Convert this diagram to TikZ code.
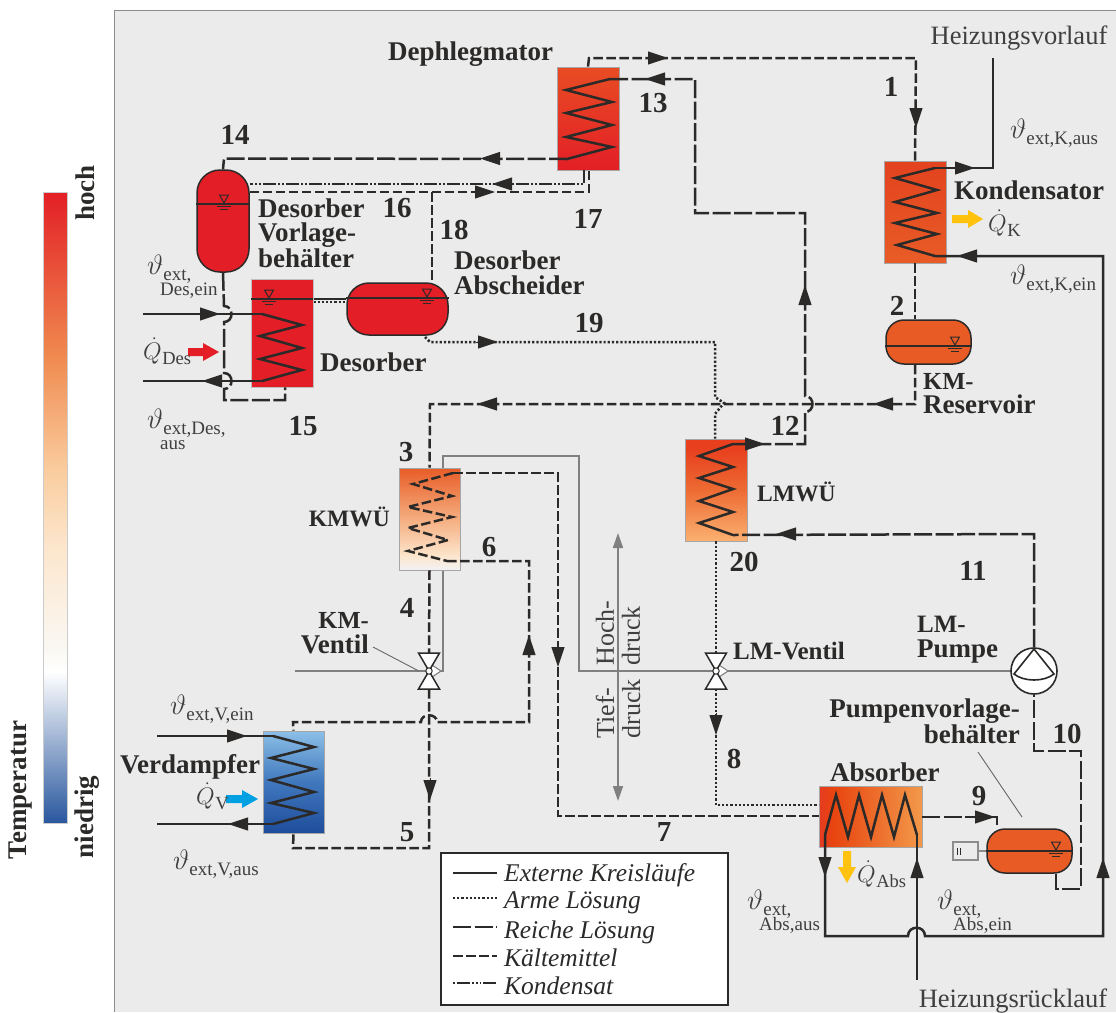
\RequirePackage{fix-cm}
\documentclass[tikz,border=0pt]{standalone}
\usepackage{fontspec}
\setmainfont{Liberation Serif}
\usetikzlibrary{arrows.meta,backgrounds}
\definecolor{dark}{HTML}{2B2A29}
\definecolor{txtgrey}{HTML}{3F3F3F}
\definecolor{panel}{HTML}{EBEBEB}
\definecolor{ctrl}{HTML}{808080}
\definecolor{hot}{HTML}{E31E26}
\definecolor{warm}{HTML}{E95B25}
\definecolor{heatyellow}{HTML}{FFC20E}
\definecolor{heatblue}{HTML}{00A0E3}
\pgfdeclareverticalshading{tempbar}{100bp}{rgb(0bp)=(0.16,0.34,0.62);rgb(25bp)=(0.16,0.34,0.62);rgb(37bp)=(1,1,1);rgb(39bp)=(0.98,0.97,0.95);rgb(47bp)=(0.99,0.90,0.80);rgb(53bp)=(0.98,0.80,0.62);rgb(62bp)=(0.94,0.54,0.31);rgb(75bp)=(0.89,0.12,0.15);rgb(100bp)=(0.89,0.12,0.15)}
\pgfdeclareverticalshading{depshade}{100bp}{rgb(0bp)=(0.89,0.12,0.15);rgb(25bp)=(0.89,0.12,0.15);rgb(75bp)=(0.91,0.30,0.14);rgb(100bp)=(0.91,0.30,0.14)}
\pgfdeclareverticalshading{konshade}{100bp}{rgb(0bp)=(0.91,0.36,0.15);rgb(25bp)=(0.91,0.36,0.15);rgb(75bp)=(0.89,0.26,0.12);rgb(100bp)=(0.89,0.26,0.12)}
\pgfdeclareverticalshading{lmwshade}{100bp}{rgb(0bp)=(0.98,0.69,0.44);rgb(25bp)=(0.98,0.69,0.44);rgb(50bp)=(0.93,0.42,0.20);rgb(70bp)=(0.91,0.25,0.12);rgb(75bp)=(0.91,0.25,0.12);rgb(100bp)=(0.91,0.25,0.12)}
\pgfdeclareverticalshading{kmwshade}{100bp}{rgb(0bp)=(0.95,0.95,0.96);rgb(25bp)=(0.95,0.95,0.96);rgb(32bp)=(0.99,0.90,0.80);rgb(50bp)=(0.96,0.68,0.50);rgb(75bp)=(0.91,0.36,0.15);rgb(100bp)=(0.91,0.36,0.15)}
\pgfdeclareverticalshading{verdshade}{100bp}{rgb(0bp)=(0.12,0.30,0.61);rgb(25bp)=(0.12,0.30,0.61);rgb(50bp)=(0.25,0.47,0.74);rgb(75bp)=(0.55,0.75,0.91);rgb(100bp)=(0.55,0.75,0.91)}
\pgfdeclarehorizontalshading{absshade}{100bp}{rgb(0bp)=(0.90,0.23,0.13);rgb(25bp)=(0.90,0.23,0.13);rgb(32bp)=(0.91,0.27,0.06);rgb(75bp)=(0.95,0.60,0.29);rgb(100bp)=(0.95,0.60,0.29)}
\newcommand\tipR[2]{\draw[flowtip] (#1-22,#2) -- (#1,#2);}
\newcommand\tipL[2]{\draw[flowtip] (#1+22,#2) -- (#1,#2);}
\newcommand\tipU[2]{\draw[flowtip] (#1,#2+22) -- (#1,#2);}
\newcommand\tipD[2]{\draw[flowtip] (#1,#2-22) -- (#1,#2);}
\newcommand\lvlmark[2]{\draw[thin line,fill=none] (#1-4.5,#2-9) -- (#1+4.5,#2-9) -- (#1,#2-1) -- cycle;
 \draw[thin line] (#1-7,#2+2.5) -- (#1+7,#2+2.5) (#1-4,#2+5.5) -- (#1+4,#2+5.5);}
\newcommand\thsub[1]{{\fontsize{28}{28}\selectfont$\vartheta$}\raisebox{-6pt}{\fontsize{19}{19}\selectfont #1}}
\newcommand\qsub[1]{{\fontsize{24}{24}\selectfont$\dot{Q}$}\raisebox{-5pt}{\fontsize{18.5}{19}\selectfont\kern0.5pt #1}}
\newcommand\subline[1]{{\fontsize{19}{19}\selectfont #1}}
\newcommand\valveshape[2]{%
 \draw[ctrl line,fill=white,line width=1.1pt] (#1,#2-8) -- (#1+12,#2) -- (#1,#2+8);
 \draw[line width=1.5pt,draw=dark,fill=white] (#1-10.5,#2-18) -- (#1+10.5,#2-18) -- (#1,#2) -- cycle;
 \draw[line width=1.5pt,draw=dark,fill=white] (#1-10.5,#2+18) -- (#1+10.5,#2+18) -- (#1,#2) -- cycle;
 \draw[line width=1pt,draw=dark,fill=white] (#1,#2) circle (3.2pt);}
\tikzset{
 pipe/.style={draw=dark,line width=2.5pt,line join=miter},
 extern/.style={pipe},
 reich/.style={pipe,dash pattern=on 18pt off 3.5pt},
 kaelte/.style={pipe,dash pattern=on 9.5pt off 3.5pt},
 arm/.style={pipe,dash pattern=on 2.2pt off 2pt},
 kond/.style={pipe,dash pattern=on 13pt off 2pt on 2pt off 2pt on 2pt off 2pt},
 coil/.style={draw=dark,line width=2.5pt},
 thin line/.style={draw=dark,line width=1pt},
 ctrl line/.style={draw=ctrl,line width=2.4pt},
 flowtip/.style={draw=dark,solid,line width=1pt,-{Triangle[length=20pt,width=13pt,fill=dark]}},
 hx/.style={rectangle,draw=black!35,line width=0.8pt,inner sep=0pt,shade},
 tank/.style={rectangle,draw=dark,line width=1.5pt,inner sep=0pt},
 bold/.style={font=\fontsize{27}{27}\selectfont\bfseries,text=dark,inner sep=0pt},
 num/.style={font=\fontsize{29}{29}\selectfont\bfseries,text=dark,inner sep=0pt},
 plain/.style={font=\fontsize{26.5}{27}\selectfont,text=txtgrey,inner sep=0pt},
 legtext/.style={font=\fontsize{25.5}{27}\selectfont\itshape,text=dark,inner sep=0pt,anchor=west},
 legline/.style={line width=2pt},
}
\begin{document}
\begin{tikzpicture}[x=1pt,y=-1pt]
\useasboundingbox (0,0) rectangle (1116,1012);
%%% equipment
\node[hx,shading=depshade,minimum width=62pt,minimum height=103pt] (dep) at (588,118.5) {};
\node[hx,shading=konshade,minimum width=62pt,minimum height=102pt] (kon) at (915,212) {};
\node[hx,shading=lmwshade,minimum width=62pt,minimum height=102pt] (lmw) at (716,490) {};
\node[hx,shading=kmwshade,minimum width=61pt,minimum height=102pt] (kmw) at (429.5,519) {};
\node[hx,shading=verdshade,minimum width=61pt,minimum height=102pt] (ver) at (293.5,782) {};
\node[hx,shading=absshade,minimum width=103pt,minimum height=61pt] (abs) at (870.5,816.5) {};
\node[rectangle,fill=hot,draw=black!25,line width=0.8pt,inner sep=0pt,minimum width=62pt,minimum height=108pt] (des) at (282,333) {};
\node[tank,rounded corners=23pt,fill=hot,minimum width=52pt,minimum height=102pt] (dvb) at (223,221) {};
\node[tank,rounded corners=22pt,fill=hot,minimum width=101pt,minimum height=52pt] (abd) at (397.5,309) {};
\node[tank,rounded corners=18pt,fill=warm,minimum width=85pt,minimum height=44pt] (res) at (928.5,342) {};
\node[tank,rounded corners=18pt,fill=warm,minimum width=85pt,minimum height=44pt] (pvb) at (1029.5,851) {};
\node[circle,draw=dark,line width=1.6pt,fill=white,inner sep=0pt,minimum size=46pt] (pump) at (1034,671) {};
\node[inner sep=0pt,minimum width=20pt,minimum height=36pt] (kmv) at (429,671) {};
\node[inner sep=0pt,minimum width=20pt,minimum height=36pt] (lmv) at (716,671) {};
\node[rectangle,draw=black!45,fill=panel,line width=1.2pt,inner sep=0pt,minimum width=25pt,minimum height=18pt] (sens) at (965.5,851) {};
\node[rectangle,draw=dark,line width=2.6pt,fill=white,inner sep=0pt,minimum width=287pt,minimum height=152pt] (leg) at (584.5,929) {};
%%% named ends
\coordinate (kTop) at (935,168); \coordinate (kBot) at (935,256);
\coordinate (dTop) at (610,79); \coordinate (dBot) at (567,159);
\coordinate (lTop) at (733,444); \coordinate (lBot) at (733,535);
\coordinate (mTop) at (453,473); \coordinate (mBot) at (447,561);
\coordinate (vTop) at (273,736); \coordinate (vBot) at (273,824);
\coordinate (eTop) at (262,314); \coordinate (eBot) at (262,381);
\coordinate (aL) at (825,835); \coordinate (aR) at (917,835);
\coordinate (hvl) at (993,58); \coordinate (hrl) at (917,980);
\coordinate (desIn) at (143,314); \coordinate (desOut) at (143,381);
\coordinate (verIn) at (157,736); \coordinate (verOut) at (157,824);
\coordinate (ctrlL) at (295,671);
%%% layer under the equipment
\begin{scope}[on background layer]
\fill[panel] (114,10) rectangle (1116,1012);
\draw[black!45,line width=1pt] (114,1012) -- (114,10) -- (1116,10);
\draw[ctrl line] (ctrlL) -- (kmv.center) -- (443,671) -- (443,456) -- (579,456) -- (579,671) -- (lmv.center) -- (pump.center);
\draw[arm] (des.east |- 0,302) -- (abd.west |- 0,302);
\draw[dark,line width=1.6pt] (des.east |- 0,299) -- (abd.west |- 0,299);
\end{scope}
%%% pressure arrow
\draw[draw=ctrl,line width=1.6pt,{Triangle[length=15pt,width=10pt,fill=ctrl]}-{Triangle[length=15pt,width=10pt,fill=ctrl]}] (618,533) -- (618,801);
\node[plain,rotate=90,align=left,font=\fontsize{26}{25}\selectfont] (tief) at (618,709) {Tief-\\[1pt]druck};
\node[plain,rotate=90,align=left,font=\fontsize{26}{25}\selectfont] (hoch) at (618,633) {Hoch-\\[1pt]druck};
%%% coils
\draw[coil] (dTop) -- (566,90) -- (612,102) -- (566,113) -- (612,125) -- (566,137) -- (612,147) -- (dBot);
\draw[coil] (kTop) -- (895,178) -- (937,190) -- (895,202) -- (937,213) -- (895,223) -- (937,234) -- (897,245) -- (kBot);
\draw[coil] (lTop) -- (699,456) -- (733,467) -- (699,478) -- (733,489) -- (699,501) -- (733,512) -- (699,523) -- (lBot);
\draw[kaelte] (mTop) -- (413,484) -- (452,496) -- (408,507) -- (452,517) -- (408,528) -- (448,540) -- (408,551) -- (mBot);
\draw[coil] (vTop) -- (314,747) -- (271,758) -- (314,769) -- (271,780) -- (314,792) -- (271,803) -- (314,813) -- (vBot);
\draw[coil] (eTop) -- (302,325) -- (260,336) -- (302,348) -- (260,359) -- (302,370) -- (eBot);
\draw[coil] (aL) -- (836,795) -- (848,837) -- (859,795) -- (871,837) -- (882,795) -- (894,837) -- (905,795) -- (aR);
%%% level lines and marks
\draw[dark,line width=1.6pt] (dvb.west |- 0,204) -- (dvb.east |- 0,204);
\lvlmark{224}{204}
\lvlmark{269}{299}
\draw[dark,line width=1.6pt] (des.west |- 0,299) -- (des.east |- 0,299);
\draw[dark,line width=1.6pt] (abd.west |- 0,298) -- (abd.east |- 0,298);
\lvlmark{427}{298}
\draw[dark,line width=1.6pt] (res.west |- 0,346) -- (res.east |- 0,346);
\lvlmark{955}{346}
\draw[dark,line width=1.6pt] (pvb.west |- 0,851) -- (pvb.east |- 0,851);
\lvlmark{1056}{851}
%%% external circuits
\draw[extern] (kTop) -- (993,168) -- (hvl);
\tipR{975}{168}
\draw[extern] (aL) -- (825,936) -- (908,936) .. controls (908,925) and (925,925) .. (925,936) -- (1103,936) -- (1103,256) -- (kBot);
\tipL{957}{256}\tipU{1103}{858}\tipD{825}{877}
\draw[extern] (hrl) -- (aR);
\tipU{917}{858}
\draw[extern] (verIn) -- (vTop); \tipR{247}{736}
\draw[extern] (vBot) -- (verOut); \tipL{228}{824}
\draw[extern] (desIn) -- (eTop); \tipR{220}{314}
\draw[extern] (eBot) -- (desOut); \tipL{202}{381}
%%% refrigerant (Kaeltemittel)
\draw[kaelte] (dep.north) -- (589,58) -- (916,58) -- (kon.north);
\tipR{668}{58}\tipD{916}{128}
\draw[kaelte] (kon.south) -- (res.north -| kon.south);
\draw[kaelte] (res.south -| 915,0) -- (915,404) -- (430,404) -- (kmw.north);
\tipL{873}{404}\tipL{477}{404}
\draw[kaelte] (mTop) -- (558,473) -- (558,816) -- (abs.west |- 0,816);
\tipD{558}{667}
\draw[kaelte] (kmw.south) -- (kmv.north);
\draw[kaelte] (kmv.south) -- (429,848) -- (293,848) -- (ver.south);
\tipD{430}{800}
\draw[kaelte] (mBot) -- (529,561) -- (529,722) -- (437,722) .. controls (437,713) and (421,713) .. (421,722) -- (293,722) -- (ver.north);
\tipU{529}{635}
\draw[kaelte] (dvb.east |- 0,192) -- (589,192) -- (dep.south -| 589,0);
\tipR{495}{192}
\draw[kaelte] (432,192) -- (abd.north -| 432,0);
%%% rich solution (Reiche Loesung)
\draw[reich] (dBot) -- (224,158.5) -- (dvb.north);
\tipL{480}{158.5}
\draw[reich] (dvb.south) -- (224,306) .. controls (234,306) and (234,322) .. (224,322) -- (224,373) .. controls (234,373) and (234,389) .. (224,389) -- (224,400) -- (285,400) -- (des.south -| 285,0);
\draw[reich] (dTop) -- (695,79) -- (695,213) -- (805,213) -- (805,396) .. controls (815,396) and (815,412) .. (805,412) -- (805,444) -- (lTop);
\tipL{645}{79}\tipU{805}{285}\tipR{765}{444}
\draw[reich] (abs.east |- 0,817) -- (997,817) -- (pvb.north -| 997,0);
\tipR{995}{817}
\draw[reich] (pvb.south -| 1056,0) -- (1056,889) -- (1081,889) -- (1081,751) -- (1034,751) -- (pump.south);
\draw[reich] (pump.north) -- (1034,534) -- (lBot);
\tipL{776}{534}
%%% poor solution (Arme Loesung)
\draw[arm] (425,337) -- (430,342) -- (715,342) -- (715,397) -- (724,403) -- (715,414) -- (lmw.north -| 715,0);
\tipR{498}{342}
\draw[arm] (lmw.south) -- (lmv.north);
\draw[arm] (lmv.south) -- (716,805) -- (abs.west |- 0,805);
\tipD{716}{735}
%%% condensate
\draw[kond] (584,170) -- (584,184) -- (dvb.east |- 0,184);
\tipL{492}{184}
%%% valves, pump, leaders
\valveshape{429}{671}
\valveshape{716}{671}
\draw[dark,line width=1.6pt,fill=white] (1034,649) -- (1014,674) .. controls (1024,682) and (1044,682) .. (1054,674) -- cycle;
\draw[draw=black!60,line width=0.9pt] (373,647) -- (kmv.west);
\draw[draw=black!60,line width=0.9pt] (978,752) -- (1022,817);
\draw[draw=black!45,line width=1.2pt] (sens.east) -- (pvb.west);
\draw[dark,line width=0.7pt] (957,848) -- (957,855) (960,848) -- (960,855);
%%% heat arrows
\fill[hot] (188,348) -- (203,348) -- (203,343) -- (219,352) -- (203,361) -- (203,356) -- (188,356) -- cycle;
\fill[heatyellow] (952,215) -- (968,215) -- (968,210) -- (983,219) -- (968,228) -- (968,223) -- (952,223) -- cycle;
\fill[heatblue] (226,795) -- (242,795) -- (242,790) -- (258,799) -- (242,808) -- (242,803) -- (226,803) -- cycle;
\fill[heatyellow] (843,851) -- (851,851) -- (851,867) -- (856,867) -- (847,883) -- (838,867) -- (843,867) -- cycle;
%%% color bar
\node[hx,shading=tempbar,minimum width=24pt,minimum height=631pt,draw=black!20] (bar) at (55,507.5) {};
\node[bold,rotate=90] (hochlbl) at (85,193) {hoch};
\node[bold,rotate=90] (nied) at (87,817) {niedrig};
\node[bold,rotate=90] (tempt) at (21,790) {Temperatur};
%%% equipment labels
\node[bold,anchor=west] (t1) at (388,54) {Dephlegmator};
\node[bold,anchor=west,align=left,font=\fontsize{27}{24}\selectfont\bfseries] (t2) at (258,233) {Desorber\\Vorlage-\\behälter};
\node[bold,anchor=west,align=left,font=\fontsize{27}{25}\selectfont\bfseries] (t3) at (454,272.5) {Desorber\\Abscheider};
\node[bold,anchor=west] (t4) at (320,362) {Desorber};
\node[bold,anchor=west] (t5) at (954,190) {Kondensator};
\node[bold,anchor=west,align=left,font=\fontsize{27}{24}\selectfont\bfseries] (t6) at (923,394) {{\fontsize{24.5}{24}\selectfont KM-}\\Reservoir};
\node[bold,anchor=east,font=\fontsize{23.5}{24}\selectfont\bfseries] (t7) at (390,517) {KMWÜ};
\node[bold,anchor=east,align=right,font=\fontsize{27}{25}\selectfont\bfseries] (t8) at (369,633.5) {{\fontsize{24.5}{25}\selectfont KM-}\\Ventil};
\node[bold,anchor=west,font=\fontsize{23.5}{24}\selectfont\bfseries] (t9) at (757,492) {LMWÜ};
\node[bold,anchor=west,font=\fontsize{25}{25}\selectfont\bfseries] (t10) at (733,651) {LM-Ventil};
\node[bold,anchor=west,align=left,font=\fontsize{27}{25}\selectfont\bfseries] (t11) at (917,639.5) {{\fontsize{25}{25}\selectfont LM-}\\Pumpe};
\node[bold,anchor=east,align=right,font=\fontsize{27}{24}\selectfont\bfseries] (t12) at (1020,721) {Pumpenvorlage-\\behälter};
\node[bold,anchor=west] (t13) at (830,772) {Absorber};
\node[bold,anchor=west] (t14) at (120,767) {Verdampfer};
\node[plain] (hv) at (1019,38) {Heizungsvorlauf};
\node[plain] (hr) at (1013,1001) {Heizungsrücklauf};
%%% state numbers
\foreach \n/\px/\py in {1/891/87,2/897/306,3/406/452,4/407/608,5/407/832,6/489/547,7/664/832,8/734/759,9/979/796,10/1067/734,11/973/571,12/785/426,13/653/103,14/235/135,15/303/426,16/397/208,17/588/219,18/454/230,19/589/323,20/744/562}
 \node[num] (n\n) at (\px,\py) {\n};
%%% temperature and heat labels
\node[plain,anchor=west] (th1) at (1010,133) {\thsub{ext,K,aus}};
\node[plain,anchor=west] (th2) at (1010,279) {\thsub{ext,K,ein}};
\node[plain,anchor=west,align=left] (th3) at (147,277) {\thsub{ext,}\\[-6pt]\hspace*{13pt}\subline{Des,ein}};
\node[plain,anchor=west,align=left] (th4) at (147,429) {\thsub{ext,Des,}\\[-6pt]\hspace*{13pt}\subline{aus}};
\node[plain,anchor=west] (th5) at (170,709) {\thsub{ext,V,ein}};
\node[plain,anchor=west] (th6) at (173,864) {\thsub{ext,V,aus}};
\node[plain,anchor=west,align=left] (th7) at (747,912) {\thsub{ext,}\\[-6pt]\hspace*{12pt}\subline{Abs,aus}};
\node[plain,anchor=west,align=left] (th8) at (937,912) {\thsub{ext,}\\[-6pt]\hspace*{16pt}\subline{Abs,ein}};
\node[plain,anchor=west] (q1) at (143,351) {\qsub{Des}};
\node[plain,anchor=west] (q2) at (988,223) {\qsub{K}};
\node[plain,anchor=west] (q3) at (196,796) {\qsub{V}};
\node[plain,anchor=west] (q4) at (857,874) {\qsub{Abs}};
%%% legend
\coordinate (la1) at (453,873); \coordinate (lb1) at (497,873);
\coordinate (la2) at (453,898); \coordinate (lb2) at (497,898);
\coordinate (la3) at (453,927); \coordinate (lb3) at (497,927);
\coordinate (la4) at (453,956); \coordinate (lb4) at (497,956);
\coordinate (la5) at (453,983); \coordinate (lb5) at (497,983);
\draw[extern,legline] (la1) -- (lb1);
\draw[arm,legline,line width=1.6pt] (la2) -- (lb2);
\draw[reich,legline] (la3) -- (lb3);
\draw[kaelte,legline] (la4) -- (lb4);
\draw[kond,legline,dash pattern=on 1.5pt off 2pt on 13pt off 2pt on 2pt off 2pt on 2pt off 2pt] (la5) -- (lb5);
\node[legtext] (l1) at (504,875) {Externe Kreisläufe};
\node[legtext] (l2) at (504,903) {Arme Lösung};
\node[legtext] (l3) at (504,932) {Reiche Lösung};
\node[legtext] (l4) at (504,958) {Kältemittel};
\node[legtext] (l5) at (504,986) {Kondensat};
\end{tikzpicture}
\end{document}
